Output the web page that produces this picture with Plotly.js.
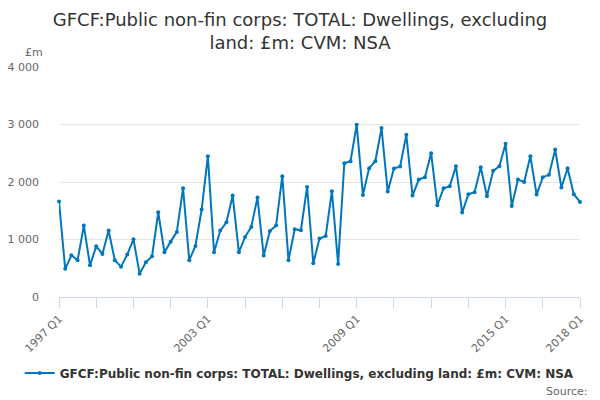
<!DOCTYPE html>
<html>
<head>
<meta charset="utf-8">
<script src="https://cdn.plot.ly/plotly-3.0.1.min.js"></script>
<style>
  html, body { margin: 0; padding: 0; background: #fff; }
  #chart { width: 600px; height: 400px; }
</style>
</head>
<body>
<div id="chart"></div>
<script>
var seriesName = "GFCF:Public non-fin corps: TOTAL: Dwellings, excluding land: £m: CVM: NSA";

var firstYear = 1997;
var lastYear = 2018;
var quarters = [];
for (var y = firstYear; y <= lastYear; y++) {
	for (var q = 1; q <= 4; q++) {
		if (y == lastYear && q > 1) break;
		quarters.push(y + " Q" + q);
	}
}

var values = [
	1660, 490, 725, 640, 1242, 551, 882, 749, 1155, 640,
	528, 737, 1004, 406, 604, 708, 1474, 778, 963, 1132,
	1892, 640, 888, 1521, 2449, 778, 1155, 1300, 1764, 778,
	1045, 1219, 1730, 720, 1149, 1242, 2101, 640, 1178, 1161,
	1915, 586, 1016, 1062, 1840, 575, 2327, 2362, 2995, 1776,
	2240, 2362, 2937, 1834, 2234, 2269, 2821, 1764, 2043, 2084,
	2501, 1596, 1892, 1927, 2275, 1468, 1788, 1822, 2258, 1753,
	2194, 2275, 2664, 1584, 2043, 2002, 2449, 1782, 2084, 2124,
	2565, 1904, 2240, 1788, 1654
];

var xLabelled = ["1997 Q1", "2003 Q1", "2009 Q1", "2015 Q1", "2018 Q1"];
var yTicks = [0, 1000, 2000, 3000, 4000];
var yTickText = ["0", "1 000", "2 000", "3 000", "4 000"];

// ticks every 6 quarters, text only on some
var xTickVals = [];
var xTickText = [];
for (var i = 0; i < quarters.length; i += 6) {
	xTickVals.push(quarters[i]);
	xTickText.push(xLabelled.indexOf(quarters[i]) >= 0 ? quarters[i] : "");
}

var trace1 = {
	x: quarters,
	y: values,
	name: seriesName,
	type: 'scatter',
	mode: 'lines+markers',
	cliponaxis: false,
	line: {color: '#0077bd', width: 2},
	marker: {color: '#0077bd', size: 4}
};

var layout = {
	width: 600,
	height: 400,
	margin: {l: 59, r: 20, t: 67, b: 103},
	paper_bgcolor: '#fff',
	plot_bgcolor: '#fff',
	font: {family: 'DejaVu Sans, sans-serif', color: '#666', size: 11},
	title: {
		text: 'GFCF:Public non-fin corps: TOTAL: Dwellings, excluding<br>land: £m: CVM: NSA',
		font: {size: 18, color: '#333'},
		x: 0.5, xanchor: 'center',
		y: 0.935, yanchor: 'middle', yref: 'container'
	},
	xaxis: {
		type: 'category',
		range: [0, quarters.length - 1],
		tickvals: xTickVals,
		ticktext: xTickText,
		tickangle: -45,
		ticks: 'outside',
		ticklen: 10,
		tickcolor: '#ccd6eb',
		showline: true,
		linecolor: '#ccd6eb',
		showgrid: false,
		zeroline: false,
		tickfont: {size: 11, color: '#666'},
		fixedrange: true
	},
	yaxis: {
		range: [0, 4000],
		tickvals: yTicks,
		ticktext: yTickText,
		showgrid: true,
		gridcolor: '#e6e6e6',
		zeroline: false,
		ticks: '',
		ticklabelstandoff: 19,
		tickfont: {size: 11, color: '#666'},
		fixedrange: true
	},
	showlegend: true,
	legend: {
		orientation: 'h',
		x: 0.462, xanchor: 'center',
		y: -0.33, yanchor: 'middle',
		font: {size: 12, color: '#333', weight: 'bold'},
		itemwidth: 30
	},
	annotations: [
		{
			text: '£m', xref: 'paper', yref: 'paper',
			x: -0.07, y: 1.065, xanchor: 'left', yanchor: 'middle',
			showarrow: false, font: {size: 11, color: '#666'}
		},
		{
			text: 'Source:', xref: 'paper', yref: 'paper',
			x: 1.02, y: -0.41, xanchor: 'right', yanchor: 'middle',
			showarrow: false, font: {size: 11, color: '#666'}
		}
	]
};

Plotly.newPlot('chart', [trace1], layout, {displayModeBar: false, staticPlot: true});
</script>
</body>
</html>
